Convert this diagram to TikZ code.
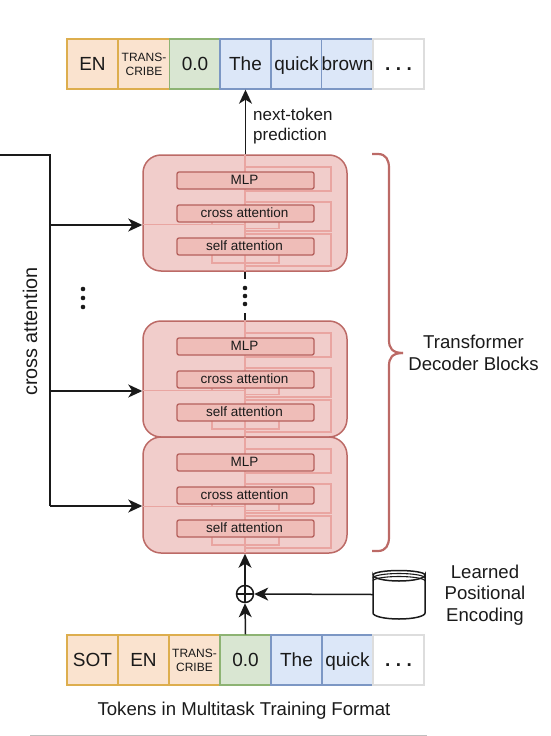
\documentclass[tikz,border=0pt]{standalone}
\usepackage{fontspec}
\setmainfont{Liberation Sans}
\usetikzlibrary{arrows.meta}
\definecolor{orF}{HTML}{FAE3CF}\definecolor{orD}{HTML}{DDAE4E}
\definecolor{grF}{HTML}{D9E6D2}\definecolor{grD}{HTML}{8DB373}
\definecolor{blF}{HTML}{DCE7F8}\definecolor{blD}{HTML}{7C97C4}
\definecolor{whD}{HTML}{DDDDDD}
\definecolor{blkF}{HTML}{F1CDCB}\definecolor{blkD}{HTML}{BC6A66}
\definecolor{inF}{HTML}{EFBDB8}\definecolor{inD}{HTML}{B5605C}
\definecolor{wire}{HTML}{E9A5A1}\definecolor{ink}{HTML}{1A1A1A}
\newcommand{\tdots}{\textbf{.\kern5.5pt.\kern5.5pt.}}
\tikzset{
  tok/.style={draw,line width=1.4pt,minimum width=51pt,minimum height=50pt,inner sep=0pt,text=ink,font=\fontsize{19}{19}\selectfont,anchor=center},
  one/.style={text height=12pt,text depth=0pt},
  small/.style={font=\fontsize{12}{14}\selectfont,align=center},
  org/.style={tok,fill=orF,draw=orD},
  grn/.style={tok,fill=grF,draw=grD},
  blu/.style={tok,fill=blF,draw=blD},
  wht/.style={tok,fill=white,draw=whD},
  blk/.style={draw=blkD,fill=blkF,line width=1.5pt,rounded corners=18pt,minimum width=204pt,minimum height=116pt,inner sep=0pt},
  lay/.style={draw=inD,fill=inF,line width=1.3pt,rounded corners=2pt,minimum width=137pt,minimum height=17pt,inner sep=0pt,text=ink,font=\fontsize{13.5}{14}\selectfont,text height=8pt,text depth=0pt,execute at end node={\kern2pt}},
  wr/.style={draw=wire,line width=1.3pt},
  conn/.style={draw=ink,line width=1.5pt},
  arr/.style={conn,-{Stealth[length=14pt,width=13pt,inset=4pt]}},
  lbl/.style={text=ink,font=\fontsize{18.6}{21.5}\selectfont,align=center,inner sep=0pt},
  dotc/.style={circle,fill=ink,inner sep=0pt,minimum size=4.6pt},
  brc/.style={draw=blkD,line width=2.2pt},
}
\begin{document}
\begin{tikzpicture}[x=1pt,y=-1pt]
\useasboundingbox (0,0) rectangle (551,736);
% upper token row
\node[org,one] (a1) at (92.5,64) {EN};
\node[org,small] (a2) at (144,64) {TRANS-\\CRIBE};
\node[grn,one] (a3) at (195,64) {0.0};
\node[blu,one] (a4) at (245.5,64) {The};
\node[blu,one] (a5) at (296.5,64) {quick};
\node[blu,one] (a6) at (347.5,64) {brown};
\node[wht,one] (a7) at (398.5,64) {\tdots};
% lower token row
\node[org,one] (c1) at (92.5,660) {SOT};
\node[org,one] (c2) at (143.5,660) {EN};
\node[org,small] (c3) at (194.5,660) {TRANS-\\CRIBE};
\node[grn,one] (c4) at (245.5,660) {0.0};
\node[blu,one] (c5) at (296.5,660) {The};
\node[blu,one] (c6) at (347.5,660) {quick};
\node[wht,one] (c7) at (398.5,660) {\tdots};
% decoder blocks
\foreach \n/\t in {b1/155,b2/321,b3/437}{
  \node[blk] (\n) at (245,\t+58) {};
  \begin{scope}[yshift=-\t pt]
  \draw[wr] (245,0) -- (245,116);
  \draw[wr] (245,12) -| (331,36) -- (245,36);
  \draw[wr] (245,47) -| (331,76) -- (245,76);
  \draw[wr] (245,79) -| (331,111) -- (245,111);
  \draw[wr] (143,69.5) -- (245,69.5);
  \draw[wr] (212,67) -- (212,69.5);
  \draw[wr] (279,67) -- (279,73.5) -- (245,73.5);
  \draw[wr] (212,100) |- (279,108) -- (279,100);
  \end{scope}
  \node[lay] (\n m) at (245.5,\t+25.5) {MLP};
  \node[lay] (\n c) at (245.5,\t+58.5) {cross attention};
  \node[lay] (\n s) at (245.5,\t+91.5) {self attention};
}
% cross attention feed
\coordinate (s0) at (0,155);
\coordinate (s1) at (50,155);
\coordinate (j1) at (50,225);
\coordinate (j2) at (50,391);
\coordinate (j3) at (50,506);
\draw[conn] (s0) -- (s1) -- (j3);
\draw[arr] (j1) -- (b1.west |- j1);
\draw[arr] (j2) -- (b2.west |- j2);
\draw[arr] (j3) -- (b3.west |- j3);
\node[lbl,rotate=90,font=\fontsize{19.8}{22}\selectfont] (ca) at (30,331.5) {cross attention};
\node[dotc] (l1) at (83,289) {};
\node[dotc] (l2) at (83,298) {};
\node[dotc] (l3) at (83,307) {};
% main stack links
\draw[arr] (b1.north -| a4) -- (a4.south);
\coordinate (t1) at (245,279);
\coordinate (t2) at (245,313);
\draw[conn] (b1.south -| t1) -- (t1);
\draw[conn] (t2) -- (b2.north -| t2);
\node[dotc] (m1) at (245,288) {};
\node[dotc] (m2) at (245,296) {};
\node[dotc] (m3) at (245,304) {};
\node[lbl,align=left,anchor=west,font=\fontsize{17}{20}\selectfont] (nt) at (253,126) {next-token\\prediction};
% positional encoding
\node[circle,draw=ink,line width=1.5pt,minimum size=17pt,inner sep=0pt] (add) at (245,594) {};
\draw[conn] (add.north) -- (add.south) (add.west) -- (add.east);
\draw[arr] (c4.north) -- (add.south);
\draw[arr] (add.north) -- (b3.south -| add);
\node[minimum width=52pt,minimum height=51pt,inner sep=0pt] (cyl) at (399,594.5) {};
\draw[arr] (cyl.west) -- (add.east);
\draw[conn,fill=white] (373,575) arc[start angle=180,end angle=0,x radius=26,y radius=6] -- (425,613) arc[start angle=0,end angle=180,x radius=26,y radius=6] -- cycle;
\draw[conn] (373,575) arc[start angle=180,end angle=360,x radius=26,y radius=4.5];
\draw[conn,line width=1.1pt] (373,578) arc[start angle=180,end angle=360,x radius=26,y radius=4.5];
\draw[conn,line width=1.1pt] (373,581) arc[start angle=180,end angle=360,x radius=26,y radius=4.5];
\node[lbl] (pe) at (485,595) {Learned\\Positional\\Encoding};
\node[lbl] (fmt) at (244,710.5) {Tokens in Multitask Training Format};
% brace
\coordinate (bt) at (372,154);
\coordinate (bb) at (372,551);
\coordinate (bm) at (403,353);
\draw[brc] (bt) -- (378,154) .. controls (386,154) and (389,160) .. (389,168) -- (389,340) .. controls (389,348) and (392,353) .. (bm);
\draw[brc] (bb) -- (378,551) .. controls (386,551) and (389,545) .. (389,537) -- (389,366) .. controls (389,358) and (392,353) .. (bm);
\node[lbl] (tdb) at (473.5,353) {Transformer\\Decoder Blocks};
% faint cut-off line at lower edge
\coordinate (f1) at (30,735.5);
\coordinate (f2) at (427,735.5);
\draw[draw=black!25,line width=0.8pt] (f1) -- (f2);
\end{tikzpicture}
\end{document}
